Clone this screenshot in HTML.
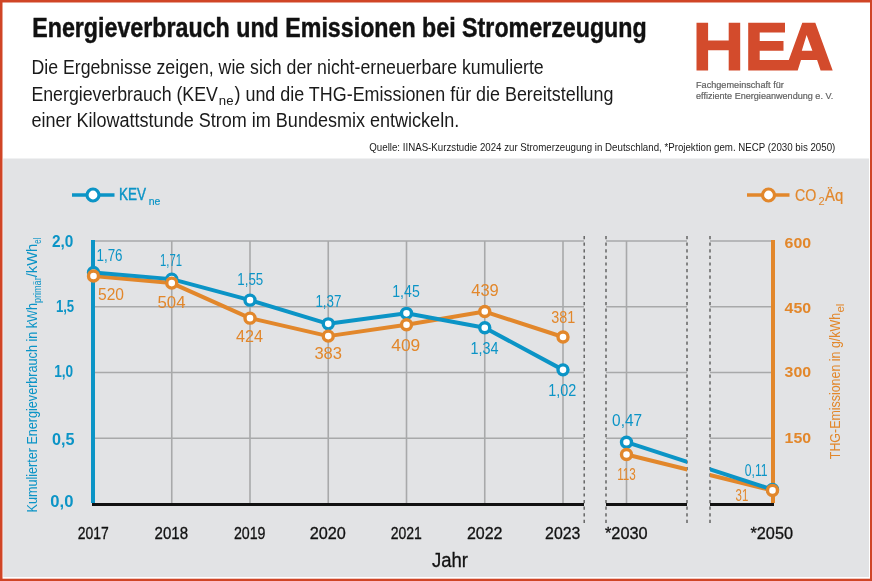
<!DOCTYPE html>
<html><head><meta charset="utf-8"><style>html,body{margin:0;padding:0;width:872px;height:581px;overflow:hidden;background:#fff}svg{display:block;will-change:transform}</style></head>
<body><svg width="872" height="581" viewBox="0 0 872 581">
<rect x="0" y="0" width="872" height="581" fill="#d04526"/>
<rect x="2.5" y="2.5" width="867.5" height="576.2" fill="#ffffff"/>
<rect x="3.2" y="158.5" width="865.8" height="418.5" fill="#e2e3e5"/>
<text x="32.2" y="36.7" font-family="Liberation Sans" font-weight="bold" font-size="27.2" fill="#111" stroke="#111" stroke-width="0.45" textLength="614.5" lengthAdjust="spacingAndGlyphs">Energieverbrauch und Emissionen bei Stromerzeugung</text>
<text x="31.4" y="74.1" font-family="Liberation Sans" font-size="20" fill="#1a1a1a" textLength="512.3" lengthAdjust="spacingAndGlyphs">Die Ergebnisse zeigen, wie sich der nicht-erneuerbare kumulierte</text>
<text x="31.4" y="100.5" font-family="Liberation Sans" font-size="20" fill="#1a1a1a" textLength="186.5" lengthAdjust="spacingAndGlyphs">Energieverbrauch (KEV</text><text x="218.8" y="105.3" font-family="Liberation Sans" font-size="13" fill="#1a1a1a" textLength="14.7" lengthAdjust="spacingAndGlyphs">ne</text><text x="234.5" y="100.5" font-family="Liberation Sans" font-size="20" fill="#1a1a1a" textLength="379" lengthAdjust="spacingAndGlyphs">) und die THG-Emissionen für die Bereitstellung</text>
<text x="31.4" y="126.8" font-family="Liberation Sans" font-size="20" fill="#1a1a1a" textLength="427.8" lengthAdjust="spacingAndGlyphs">einer Kilowattstunde Strom im Bundesmix entwickeln.</text>
<text x="369.3" y="151" font-family="Liberation Sans" font-size="11.5" fill="#1a1a1a" textLength="466" lengthAdjust="spacingAndGlyphs">Quelle: IINAS-Kurzstudie 2024 zur Stromerzeugung in Deutschland, *Projektion gem. NECP (2030 bis 2050)</text>
<path fill="#d34b2c" fill-rule="evenodd" d="M696.5 22.7H708.1V40.5H728.7V22.7H740.2V70.5H728.7V50.3H708.1V70.5H696.5Z M748.2 22.7H785V32.4H759.7V41.1H783.5V50.8H759.7V60H788.8L802.3 22.7H815.3L832.7 70.5H820.6L817.1 60H801L797.7 70.5H748.2Z M806.6 34.9L812.4 50.8H801.8Z"/>
<text x="696" y="87.6" font-family="Liberation Sans" font-size="9.6" fill="#616161" stroke="#616161" stroke-width="0.2" textLength="87.8" lengthAdjust="spacingAndGlyphs">Fachgemeinschaft für</text>
<text x="696" y="99.2" font-family="Liberation Sans" font-size="9.6" fill="#616161" stroke="#616161" stroke-width="0.2" textLength="137.2" lengthAdjust="spacingAndGlyphs">effiziente Energieanwendung e. V.</text>
<path d="M93 438.25H584M606 438.25H687M710 438.25H772M93 372.50H584M606 372.50H687M710 372.50H772M93 306.75H584M606 306.75H687M710 306.75H772M93 241.00H584M606 241.00H687M710 241.00H772M171.75 241V504M250.00 241V504M328.25 241V504M406.50 241V504M484.75 241V504M563.00 241V504M626.5 241V504" stroke="#a8a9aa" stroke-width="1.6" fill="none"/>
<path d="M584.2 236V524M606 236V524M687 236V524M710 236V524" stroke="#5c5c5c" stroke-width="1.4" stroke-dasharray="3.2 3.4" fill="none"/>
<path d="M92 504.5H584M606 504.5H687M710 504.5H774" stroke="#111" stroke-width="3" fill="none"/>
<path d="M93 240V503" stroke="#0b94c6" stroke-width="4" fill="none"/>
<path d="M773 240V503" stroke="#e2872b" stroke-width="4" fill="none"/>
<path d="M93.50 276.07 L171.75 283.08 L250.00 318.15 L328.25 336.12 L406.50 324.72 L484.75 311.57 L563.00 337.00" stroke="#e2872b" stroke-width="4" fill="none" stroke-linejoin="round"/>
<path d="M93.50 272.56 L171.75 279.13 L250.00 300.17 L328.25 323.85 L406.50 313.33 L484.75 327.79 L563.00 369.87" stroke="#0b94c6" stroke-width="4" fill="none" stroke-linejoin="round"/>
<clipPath id="c1"><rect x="606" y="230" width="81" height="290"/><rect x="710" y="230" width="80" height="290"/></clipPath>
<g clip-path="url(#c1)"><path d="M626.5 454.47 L772.5 490.41" stroke="#e2872b" stroke-width="4"/><path d="M626.5 442.19 L772.5 489.54" stroke="#0b94c6" stroke-width="4"/></g>
<circle cx="93.50" cy="272.56" r="5" fill="#fff" stroke="#0b94c6" stroke-width="3.4"/>
<circle cx="171.75" cy="279.13" r="5" fill="#fff" stroke="#0b94c6" stroke-width="3.4"/>
<circle cx="250.00" cy="300.17" r="5" fill="#fff" stroke="#0b94c6" stroke-width="3.4"/>
<circle cx="328.25" cy="323.85" r="5" fill="#fff" stroke="#0b94c6" stroke-width="3.4"/>
<circle cx="406.50" cy="313.33" r="5" fill="#fff" stroke="#0b94c6" stroke-width="3.4"/>
<circle cx="484.75" cy="327.79" r="5" fill="#fff" stroke="#0b94c6" stroke-width="3.4"/>
<circle cx="563.00" cy="369.87" r="5" fill="#fff" stroke="#0b94c6" stroke-width="3.4"/>
<circle cx="93.50" cy="276.07" r="5" fill="#fff" stroke="#e2872b" stroke-width="3.4"/>
<circle cx="171.75" cy="283.08" r="5" fill="#fff" stroke="#e2872b" stroke-width="3.4"/>
<circle cx="250.00" cy="318.15" r="5" fill="#fff" stroke="#e2872b" stroke-width="3.4"/>
<circle cx="328.25" cy="336.12" r="5" fill="#fff" stroke="#e2872b" stroke-width="3.4"/>
<circle cx="406.50" cy="324.72" r="5" fill="#fff" stroke="#e2872b" stroke-width="3.4"/>
<circle cx="484.75" cy="311.57" r="5" fill="#fff" stroke="#e2872b" stroke-width="3.4"/>
<circle cx="563.00" cy="337.00" r="5" fill="#fff" stroke="#e2872b" stroke-width="3.4"/>
<circle cx="626.5" cy="442.19" r="5" fill="#fff" stroke="#0b94c6" stroke-width="3.4"/>
<circle cx="626.5" cy="454.47" r="5" fill="#fff" stroke="#e2872b" stroke-width="3.4"/>
<circle cx="772.5" cy="489.54" r="5" fill="#fff" stroke="#0b94c6" stroke-width="3.4"/>
<circle cx="772.5" cy="490.41" r="5" fill="#fff" stroke="#e2872b" stroke-width="3.4"/>
<text x="96.50" y="261" font-family="Liberation Sans" font-size="16" fill="#0b94c6" textLength="26" lengthAdjust="spacingAndGlyphs">1,76</text>
<text x="98.00" y="300" font-family="Liberation Sans" font-size="16" fill="#e2872b" textLength="26" lengthAdjust="spacingAndGlyphs">520</text>
<text x="160.00" y="266" font-family="Liberation Sans" font-size="16" fill="#0b94c6" textLength="22" lengthAdjust="spacingAndGlyphs">1,71</text>
<text x="157.50" y="308" font-family="Liberation Sans" font-size="16" fill="#e2872b" textLength="28" lengthAdjust="spacingAndGlyphs">504</text>
<text x="237.30" y="284.7" font-family="Liberation Sans" font-size="16" fill="#0b94c6" textLength="26" lengthAdjust="spacingAndGlyphs">1,55</text>
<text x="236.00" y="342" font-family="Liberation Sans" font-size="16" fill="#e2872b" textLength="27" lengthAdjust="spacingAndGlyphs">424</text>
<text x="315.40" y="307.2" font-family="Liberation Sans" font-size="16" fill="#0b94c6" textLength="26" lengthAdjust="spacingAndGlyphs">1,37</text>
<text x="314.40" y="359.4" font-family="Liberation Sans" font-size="16" fill="#e2872b" textLength="27.6" lengthAdjust="spacingAndGlyphs">383</text>
<text x="392.25" y="296.8" font-family="Liberation Sans" font-size="16" fill="#0b94c6" textLength="27.5" lengthAdjust="spacingAndGlyphs">1,45</text>
<text x="391.30" y="350.8" font-family="Liberation Sans" font-size="16" fill="#e2872b" textLength="29" lengthAdjust="spacingAndGlyphs">409</text>
<text x="471.25" y="295.8" font-family="Liberation Sans" font-size="16" fill="#e2872b" textLength="27.5" lengthAdjust="spacingAndGlyphs">439</text>
<text x="470.40" y="353.6" font-family="Liberation Sans" font-size="16" fill="#0b94c6" textLength="28" lengthAdjust="spacingAndGlyphs">1,34</text>
<text x="551.20" y="323.3" font-family="Liberation Sans" font-size="16" fill="#e2872b" textLength="24" lengthAdjust="spacingAndGlyphs">381</text>
<text x="548.30" y="395.6" font-family="Liberation Sans" font-size="16" fill="#0b94c6" textLength="28" lengthAdjust="spacingAndGlyphs">1,02</text>
<text x="612.10" y="425.8" font-family="Liberation Sans" font-size="16" fill="#0b94c6" textLength="30" lengthAdjust="spacingAndGlyphs">0,47</text>
<text x="617.20" y="480" font-family="Liberation Sans" font-size="16" fill="#e2872b" textLength="18.6" lengthAdjust="spacingAndGlyphs">113</text>
<text x="744.85" y="475.8" font-family="Liberation Sans" font-size="16" fill="#0b94c6" textLength="22.7" lengthAdjust="spacingAndGlyphs">0,11</text>
<text x="735.55" y="500.6" font-family="Liberation Sans" font-size="16" fill="#e2872b" textLength="12.7" lengthAdjust="spacingAndGlyphs">31</text>
<text x="52" y="246.9" font-family="Liberation Sans" font-weight="bold" font-size="16" fill="#0b94c6" textLength="21.4" lengthAdjust="spacingAndGlyphs">2,0</text>
<text x="55.9" y="311.5" font-family="Liberation Sans" font-weight="bold" font-size="16" fill="#0b94c6" textLength="18.3" lengthAdjust="spacingAndGlyphs">1,5</text>
<text x="54.2" y="376.9" font-family="Liberation Sans" font-weight="bold" font-size="16" fill="#0b94c6" textLength="19.0" lengthAdjust="spacingAndGlyphs">1,0</text>
<text x="51.9" y="444.8" font-family="Liberation Sans" font-weight="bold" font-size="16" fill="#0b94c6" textLength="22.5" lengthAdjust="spacingAndGlyphs">0,5</text>
<text x="50.3" y="507.3" font-family="Liberation Sans" font-weight="bold" font-size="16" fill="#0b94c6" textLength="23.1" lengthAdjust="spacingAndGlyphs">0,0</text>
<text x="784.6" y="247.7" font-family="Liberation Sans" font-weight="bold" font-size="15" fill="#e2872b" textLength="26.5" lengthAdjust="spacingAndGlyphs">600</text>
<text x="784.6" y="312.8" font-family="Liberation Sans" font-weight="bold" font-size="15" fill="#e2872b" textLength="26.5" lengthAdjust="spacingAndGlyphs">450</text>
<text x="784.6" y="376.7" font-family="Liberation Sans" font-weight="bold" font-size="15" fill="#e2872b" textLength="26.5" lengthAdjust="spacingAndGlyphs">300</text>
<text x="784.6" y="443" font-family="Liberation Sans" font-weight="bold" font-size="15" fill="#e2872b" textLength="26.5" lengthAdjust="spacingAndGlyphs">150</text>
<text x="77.70" y="539" font-family="Liberation Sans" font-size="16" fill="#111" stroke="#111" stroke-width="0.3" textLength="31" lengthAdjust="spacingAndGlyphs">2017</text>
<text x="154.60" y="539" font-family="Liberation Sans" font-size="16" fill="#111" stroke="#111" stroke-width="0.3" textLength="33.4" lengthAdjust="spacingAndGlyphs">2018</text>
<text x="233.90" y="539" font-family="Liberation Sans" font-size="16" fill="#111" stroke="#111" stroke-width="0.3" textLength="31.6" lengthAdjust="spacingAndGlyphs">2019</text>
<text x="309.75" y="539" font-family="Liberation Sans" font-size="16" fill="#111" stroke="#111" stroke-width="0.3" textLength="36.1" lengthAdjust="spacingAndGlyphs">2020</text>
<text x="390.65" y="539" font-family="Liberation Sans" font-size="16" fill="#111" stroke="#111" stroke-width="0.3" textLength="31.1" lengthAdjust="spacingAndGlyphs">2021</text>
<text x="466.90" y="539" font-family="Liberation Sans" font-size="16" fill="#111" stroke="#111" stroke-width="0.3" textLength="35.6" lengthAdjust="spacingAndGlyphs">2022</text>
<text x="545.10" y="539" font-family="Liberation Sans" font-size="16" fill="#111" stroke="#111" stroke-width="0.3" textLength="35.2" lengthAdjust="spacingAndGlyphs">2023</text>
<text x="605" y="539" font-family="Liberation Sans" font-size="16" fill="#111" stroke="#111" stroke-width="0.3" textLength="42.7" lengthAdjust="spacingAndGlyphs">*2030</text>
<text x="750.5" y="539" font-family="Liberation Sans" font-size="16" fill="#111" stroke="#111" stroke-width="0.3" textLength="42.5" lengthAdjust="spacingAndGlyphs">*2050</text>
<text x="432" y="567" font-family="Liberation Sans" font-size="20" fill="#111" stroke="#111" stroke-width="0.3" textLength="36" lengthAdjust="spacingAndGlyphs">Jahr</text>
<path d="M72 195H114.5" stroke="#0b94c6" stroke-width="3.4"/><circle cx="93" cy="195" r="6" fill="#fff" stroke="#0b94c6" stroke-width="3.2"/>
<text x="119" y="200.4" font-family="Liberation Sans" font-size="16.5" fill="#0b94c6" stroke="#0b94c6" stroke-width="0.45" textLength="27" lengthAdjust="spacingAndGlyphs">KEV</text>
<text x="148.7" y="204.6" font-family="Liberation Sans" font-size="11" fill="#0b94c6" stroke="#0b94c6" stroke-width="0.2" textLength="11.7" lengthAdjust="spacingAndGlyphs">ne</text>
<path d="M747 195H789.5" stroke="#e2872b" stroke-width="3.4"/><circle cx="768.5" cy="195" r="6" fill="#fff" stroke="#e2872b" stroke-width="3.2"/>
<text x="795" y="201" font-family="Liberation Sans" font-size="16.5" fill="#e2872b" stroke="#e2872b" stroke-width="0.2" textLength="21.3" lengthAdjust="spacingAndGlyphs">CO</text>
<text x="818.4" y="204.6" font-family="Liberation Sans" font-size="11.5" fill="#e2872b" textLength="6.2" lengthAdjust="spacingAndGlyphs">2</text>
<text x="825" y="201" font-family="Liberation Sans" font-size="16.5" fill="#e2872b" stroke="#e2872b" stroke-width="0.2" textLength="18.2" lengthAdjust="spacingAndGlyphs">Äq</text>
<text transform="translate(36.9,512.5) rotate(-90)" font-family="Liberation Sans" font-size="14" fill="#0b94c6" textLength="209.4" lengthAdjust="spacingAndGlyphs">Kumulierter Energieverbrauch in kWh</text>
<text transform="translate(40.5,303.1) rotate(-90)" font-family="Liberation Sans" font-size="10" fill="#0b94c6" textLength="25.8" lengthAdjust="spacingAndGlyphs">primär</text>
<text transform="translate(36.9,277.3) rotate(-90)" font-family="Liberation Sans" font-size="14" fill="#0b94c6" textLength="33.6" lengthAdjust="spacingAndGlyphs">/kWh</text>
<text transform="translate(40.5,243.7) rotate(-90)" font-family="Liberation Sans" font-size="10" fill="#0b94c6" textLength="6" lengthAdjust="spacingAndGlyphs">el</text>
<text transform="translate(840,459.2) rotate(-90)" font-family="Liberation Sans" font-size="14" fill="#e2872b" textLength="146.3" lengthAdjust="spacingAndGlyphs">THG-Emissionen in g/kWh</text>
<text transform="translate(843.5,312.6) rotate(-90)" font-family="Liberation Sans" font-size="10" fill="#e2872b" textLength="9" lengthAdjust="spacingAndGlyphs">el</text>
</svg></body></html>
